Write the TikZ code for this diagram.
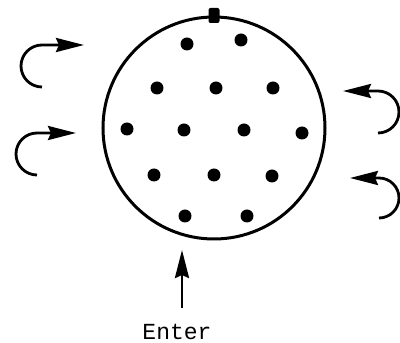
\documentclass[tikz,border=0pt]{standalone}
\usepackage{fontspec}
\usepackage{tikz}
\usetikzlibrary{arrows.meta,positioning}
\newfontfamily\typewriter{Liberation Mono}

\begin{document}
\begin{tikzpicture}[x=1pt,y=1pt,line width=2.8pt,
    arr/.style={-{Stealth[length=28pt,width=14pt,inset=3pt]}},
    dot/.style={circle,fill,inner sep=0pt,minimum width=13pt,minimum height=12pt}]
      \useasboundingbox (0,0) rectangle (400,343);
      \node[circle,draw,line width=3pt,minimum size=222pt,inner sep=0pt](vessel) at (214,215){};
      \node[fill,rounded corners=2pt,minimum width=11pt,minimum height=15pt,inner sep=0pt](port) at (vessel.north){};
      % particles
      \foreach \x/\y [count=\k] in {187/299,241/303,157/255,216/255,273/255,127/214,184/213,
                                    244/213,302/210,154/168,214/168,272/167,185/127,247/127}{
        \node[dot](p\k) at (\x,\y){};}
      % flow on the left
      \coordinate (a1) at (42,256); \coordinate (b1) at (84,298);
      \draw[arr](a1) arc[start angle=270,end angle=90,radius=21] -- (b1);
      \coordinate (a2) at (37,168); \coordinate (b2) at (76,210);
      \draw[arr](a2) arc[start angle=270,end angle=90,radius=21] -- (b2);
      % flow on the right
      \coordinate (c1) at (378,210); \coordinate (d1) at (343,252);
      \draw[arr](c1) arc[start angle=-90,end angle=90,radius=21] -- (d1);
      \coordinate (c2) at (379,125); \coordinate (d2) at (350,165);
      \draw[arr](c2) arc[start angle=-90,end angle=90,radius=20] -- (d2);
      % entry
      \node[font=\typewriter\fontsize{23}{26}\selectfont,anchor=base](enter) at (177,3){Enter};
      \coordinate (tip) at (182,93);
      \draw[arr,shorten <=12pt]([xshift=5pt]enter.north) -- (tip);
    \end{tikzpicture}
\end{document}
